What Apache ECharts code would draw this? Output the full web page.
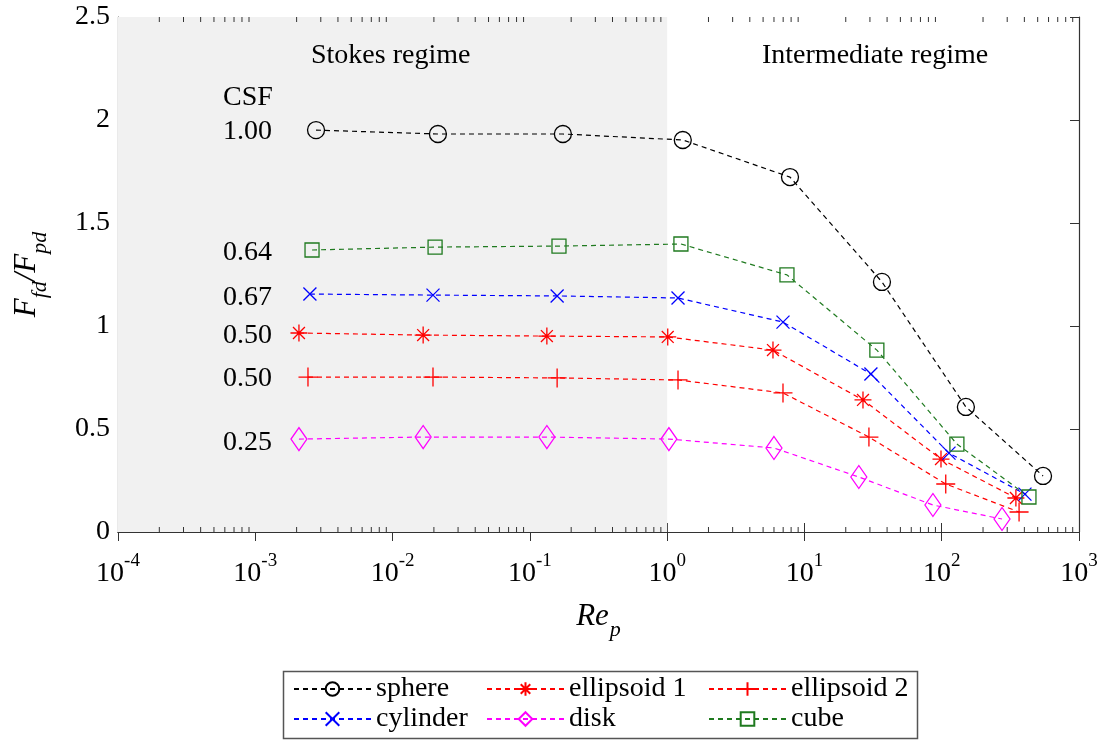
<!DOCTYPE html>
<html>
<head>
<meta charset="utf-8">
<script src="https://cdn.jsdelivr.net/npm/echarts@6/dist/echarts.min.js"></script>
<style>
html,body{margin:0;padding:0;background:#fff;}
#chart{width:1107px;height:740px;}
</style>
</head>
<body>
<div id="chart"></div>
<script>
// ---- data ----
const seriesNames = ['sphere', 'ellipsoid 1', 'ellipsoid 2', 'cylinder', 'disk', 'cube'];
const csfLabels = ['1.00', '0.64', '0.67', '0.50', '0.50', '0.25'];
const xTickLabels = ['-4', '-3', '-2', '-1', '0', '1', '2', '3'];
const yTickLabels = ['0', '0.5', '1', '1.5', '2', '2.5'];

const sphereRe = [0.00277, 0.0214, 0.174, 1.30, 7.85, 36.7, 150, 547];
const sphereF  = [1.951, 1.932, 1.932, 1.903, 1.723, 1.214, 0.607, 0.272];
const cubeRe   = [0.00259, 0.0204, 0.163, 1.26, 7.46, 33.7, 129, 432];
const cubeF    = [1.369, 1.383, 1.388, 1.398, 1.248, 0.883, 0.427, 0.170];
const cylRe    = [0.0025, 0.0197, 0.158, 1.20, 6.98, 30.5, 113, 404];
const cylF     = [1.155, 1.150, 1.146, 1.136, 1.019, 0.767, 0.383, 0.184];
const ell1Re   = [0.00208, 0.0167, 0.133, 1.01, 5.9, 26.7, 98.8, 347];
const ell1F    = [0.966, 0.956, 0.951, 0.947, 0.883, 0.641, 0.354, 0.165];
const ell2Re   = [0.00242, 0.0197, 0.158, 1.20, 6.98, 29.5, 107, 366];
const ell2F    = [0.752, 0.752, 0.748, 0.738, 0.675, 0.461, 0.233, 0.097];
const diskRe   = [0.00208, 0.0167, 0.133, 1.03, 6.0, 24.9, 86.3, 275];
const diskF    = [0.451, 0.461, 0.461, 0.451, 0.408, 0.267, 0.131, 0.063];

const stokesRange = [1e-4, 1];

// ---- styling ----
const FONT = 'Liberation Serif';
const FS = 28;
const pair = (xs, ys) => xs.map((x, i) => [x, ys[i]]);

const SYM_X = 'path://M0,0L10,10M10,0L0,10';
const SYM_PLUS = 'path://M5,0L5,10M0,5L10,5';
const SYM_STAR = 'path://M5,0L5,10M0,5L10,5M1.5,1.5L8.5,8.5M8.5,1.5L1.5,8.5';
const SYM_DIAMOND = 'path://M5,0L10,7L5,14L0,7Z';
const SYM_SQUARE = 'path://M0,0L10,0L10,10L0,10Z';

function mkSeries(name, xs, ys, color, symbol, size, extra) {
  return Object.assign({
    name: name,
    type: 'line',
    data: pair(xs, ys),
    symbol: symbol,
    symbolSize: size,
    showAllSymbol: true,
    z: 5,
    lineStyle: { color: color, width: 1.2, type: [5, 4] },
    itemStyle: { color: 'rgba(0,0,0,0)', borderColor: color, borderWidth: 1.3 },
    emphasis: { disabled: true },
    animation: false
  }, extra || {});
}

const minorVals = [];
for (let e = -4; e < 3; e++) {
  for (let m = 2; m <= 9; m++) minorVals.push(m * Math.pow(10, e));
}

const series = [
  mkSeries('sphere', sphereRe, sphereF, '#000000', 'circle', 17, {
    markArea: {
      silent: true,
      itemStyle: { color: '#f1f1f1' },
      data: [[{ xAxis: stokesRange[0] }, { xAxis: stokesRange[1] }]]
    }
  }),
  mkSeries('ellipsoid 1', ell1Re, ell1F, '#ff0000', SYM_STAR, 17),
  mkSeries('ellipsoid 2', ell2Re, ell2F, '#ff0000', SYM_PLUS, 19),
  mkSeries('cylinder', cylRe, cylF, '#0000ff', SYM_X, 13),
  mkSeries('disk', diskRe, diskF, '#ff00ff', SYM_DIAMOND, [16, 23]),
  mkSeries('cube', cubeRe, cubeF, '#1f7a1f', SYM_SQUARE, 14),
  {
    type: 'custom',
    name: 'minorTicks',
    data: minorVals.map(v => [v]),
    z: 6,
    silent: true,
    animation: false,
    renderItem: function (params, api) {
      const pb = api.coord([api.value(0), 0]);
      const pt = api.coord([api.value(0), 2.5]);
      return {
        type: 'group',
        children: [
          { type: 'line', shape: { x1: pb[0], y1: pb[1], x2: pb[0], y2: pb[1] - 5 }, style: { stroke: '#333', lineWidth: 1 } },
          { type: 'line', shape: { x1: pt[0], y1: pt[1], x2: pt[0], y2: pt[1] + 5 }, style: { stroke: '#333', lineWidth: 1 } }
        ]
      };
    }
  }
];

const axisLineStyle = { color: '#333', width: 1.2 };

const xLabelRich = {
  b: { fontFamily: FONT, fontSize: FS, color: '#000', padding: [8, 0, 0, 0], verticalAlign: 'bottom' },
  s: { fontFamily: FONT, fontSize: 19, color: '#000', verticalAlign: 'top' }
};

function legendCfg(left, names) {
  return {
    left: left, top: 670, orient: 'vertical', height: 62,
    itemWidth: 77, itemHeight: 17, itemGap: 2,
    data: names,
    selectedMode: false,
    textStyle: { fontFamily: FONT, fontSize: FS, color: '#000', lineHeight: 28 }
  };
}

function txt(left, top, s) {
  return { type: 'text', left: left, top: top, z: 100,
    style: { text: s, font: FS + 'px "' + FONT + '"', fill: '#000' } };
}

const option = {
  backgroundColor: '#fff',
  animation: false,
  grid: { left: 118, right: 28, top: 17, bottom: 208, containLabel: false, outerBoundsMode: 'none' },
  xAxis: [{
    type: 'log', logBase: 10, min: 1e-4, max: 1e3,
    position: 'bottom',
    axisLine: { show: true, lineStyle: axisLineStyle },
    axisTick: { show: true, inside: true, length: 9, lineStyle: { color: '#333' } },
    splitLine: { show: false },
    axisLabel: {
      margin: 20,
      formatter: function (v) {
        const e = Math.round(Math.log10(v));
        return '{b|10}{s|' + xTickLabels[e + 4] + '}';
      },
      rich: xLabelRich
    },
    name: '{i|Re}{s|p}',
    nameLocation: 'middle',
    nameGap: 61,
    nameTextStyle: {
      rich: {
        i: { fontFamily: FONT, fontStyle: 'italic', fontSize: 31, color: '#000' },
        s: { fontFamily: FONT, fontStyle: 'italic', fontSize: 22, color: '#000', padding: [26, 0, 0, 1], verticalAlign: 'bottom' }
      }
    }
  }, {
    type: 'log', logBase: 10, min: 1e-4, max: 1e3,
    position: 'top',
    axisLine: { show: true, lineStyle: axisLineStyle },
    axisTick: { show: true, inside: true, length: 9, lineStyle: { color: '#333' } },
    axisLabel: { show: false },
    splitLine: { show: false }
  }],
  yAxis: [{
    type: 'value', min: 0, max: 2.5, interval: 0.5,
    position: 'left',
    axisLine: { show: true, lineStyle: axisLineStyle },
    axisTick: { show: true, inside: true, length: 9, lineStyle: { color: '#333' } },
    splitLine: { show: false },
    axisLabel: {
      margin: 8,
      fontFamily: FONT, fontSize: FS, color: '#000',
      formatter: function (v) { return yTickLabels[Math.round(v / 0.5)]; }
    },
    name: '{i|F}{s|fd}{i|/F}{s|pd}',
    nameLocation: 'middle',
    nameGap: 67,
    nameRotate: 90,
    nameTextStyle: {
      rich: {
        i: { fontFamily: FONT, fontStyle: 'italic', fontSize: 31, color: '#000' },
        s: { fontFamily: FONT, fontStyle: 'italic', fontSize: 22, color: '#000', padding: [26, 0, 0, 0], verticalAlign: 'bottom' }
      }
    }
  }, {
    type: 'value', min: 0, max: 2.5, interval: 0.5,
    position: 'right',
    axisLine: { show: true, lineStyle: axisLineStyle },
    axisTick: { show: true, inside: true, length: 9, lineStyle: { color: '#333' } },
    axisLabel: { show: false },
    splitLine: { show: false }
  }],
  legend: [
    legendCfg(288, ['sphere', 'cylinder']),
    legendCfg(481, ['ellipsoid 1', 'disk']),
    legendCfg(703, ['ellipsoid 2', 'cube'])
  ],
  graphic: [
    { type: 'rect', left: 281, top: 669, shape: { width: 634, height: 67 }, style: { fill: 'none', stroke: '#555', lineWidth: 1.5 }, z: 100 },
    txt(311, 42, 'Stokes regime'),
    txt(762, 42, 'Intermediate regime'),
    txt(223, 84, 'CSF'),
    txt(223, 118, csfLabels[0]),
    txt(223, 239, csfLabels[1]),
    txt(223, 284, csfLabels[2]),
    txt(223, 322, csfLabels[3]),
    txt(223, 365, csfLabels[4]),
    txt(223, 429, csfLabels[5])
  ],
  series: series
};

const chart = echarts.init(document.getElementById('chart'), null, { renderer: 'canvas' });
chart.setOption(option);
</script>
</body>
</html>
